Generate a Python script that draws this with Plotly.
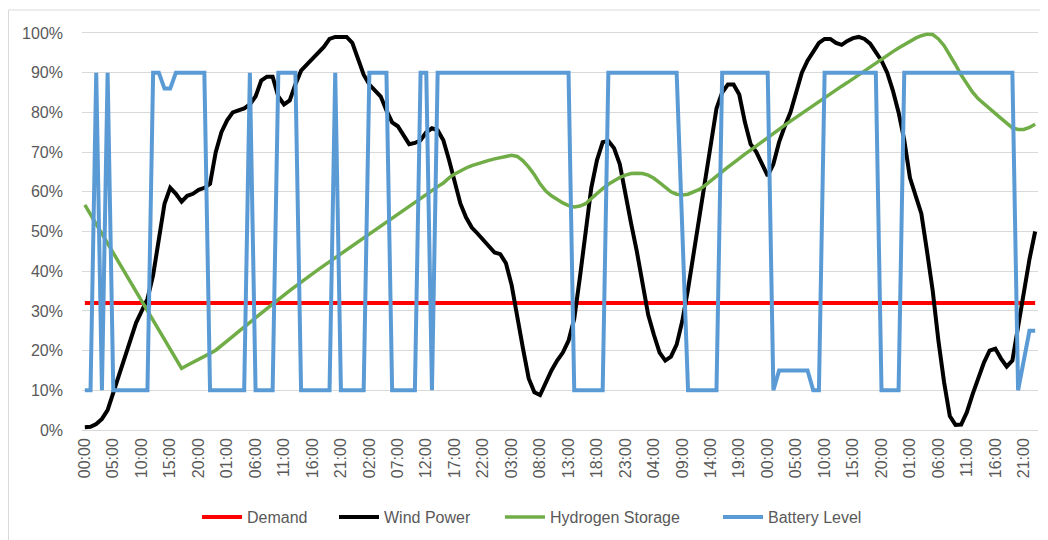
import plotly.graph_objects as go

hours = list(range(168))
time_labels = [f"{h % 24:02d}:00" for h in hours]
tick_hours = hours[::5]
tick_labels = time_labels[::5]

demand = [32] * 168

wind_power = [
    0.7, 0.8, 1.5, 2.8, 5, 9.5, 14, 18.5, 23, 27, 30, 33, 39, 48, 57, 61, 59.5, 57.5, 59, 59.5,
    60.5, 61, 62, 70, 75, 78, 80, 80.5, 81, 82, 84, 88, 89, 89, 84, 82, 83, 87, 90.5, 92,
    93.5, 95, 96.5, 98.5, 99, 99, 99, 97.5, 93.5, 89.5, 87, 85.5, 84, 80.5, 77.5, 76.5, 74, 72, 72.3, 73,
    75, 76, 75.5, 73, 68, 62, 57, 53.5, 51, 49.5, 48, 46.5, 44.7, 44.3, 42, 36.5, 28, 20.5, 13, 9.5,
    8.8, 12, 15, 17.5, 19.5, 22.5, 28, 38.5, 49, 61, 68, 72.5, 72.8, 71, 67, 59, 52, 45, 37, 29,
    24, 19.5, 17.5, 18.5, 21.5, 27.5, 35.5, 44.5, 54, 63, 72, 81, 85, 87, 87, 84.5, 77.5, 72, 70, 67,
    64, 67, 72.5, 76.5, 80, 85, 90, 93, 95.5, 97.5, 98.5, 98.5, 97.5, 97, 98, 98.7, 99, 98.5, 97.3, 95.3,
    93, 90, 85.5, 80, 73, 63.5, 59.2, 54.5, 45, 35, 22.5, 12, 3.5, 1.3, 1.4, 4.5, 9, 13, 17, 20,
    20.5, 18, 16, 17.5, 26, 35, 43, 50,
]

hydrogen_storage = [
    56.7, 54.3, 51.9, 49.4, 47.0, 44.6, 42.2, 39.7, 37.3, 34.9, 32.5, 30.0, 27.6, 25.2, 22.8, 20.3, 17.9, 15.5, 16.3, 17.0,
    17.8, 18.5, 19.3, 20.1, 21.2, 22.4, 23.6, 24.8, 26.0, 27.2, 28.3, 29.4, 30.6, 31.7, 32.9, 34.0, 35.1, 36.2, 37.3, 38.4,
    39.4, 40.4, 41.4, 42.4, 43.3, 44.4, 45.4, 46.4, 47.4, 48.5, 49.5, 50.5, 51.5, 52.5, 53.5, 54.5, 55.5, 56.4, 57.4, 58.4,
    59.3, 60.3, 61.3, 62.2, 63.5, 64.5, 65.3, 66.0, 66.6, 67.1, 67.5, 67.9, 68.3, 68.6, 68.9, 69.2, 68.9, 67.8, 66.2, 64.3,
    62.0, 60.2, 59.0, 58.0, 57.2, 56.5, 56.2, 56.4, 57.0, 58.3, 59.6, 60.8, 61.9, 62.8, 63.6, 64.2, 64.6, 64.7, 64.6, 64.2,
    63.4, 62.3, 61.1, 60.0, 59.4, 59.2, 59.4, 59.9, 60.6, 61.6, 62.8, 64.0, 65.1, 66.2, 67.3, 68.5, 69.5, 70.5, 71.5, 72.5,
    73.5, 74.6, 75.7, 76.8, 77.8, 78.8, 79.7, 80.7, 81.7, 82.7, 83.7, 84.6, 85.6, 86.6, 87.5, 88.5, 89.5, 90.5, 91.5, 92.5,
    93.4, 94.4, 95.3, 96.2, 97.1, 97.9, 98.7, 99.3, 99.7, 99.6, 98.5, 96.8, 94.6, 92.0, 89.4, 87.2, 85.1, 83.4, 82.1, 80.9,
    79.8, 78.5, 77.3, 76.1, 75.7, 75.7, 76.2, 77.0,
]

battery_level = (
    [10, 10, 90, 10, 90, 10, 10, 10, 10, 10, 10, 10, 90, 90, 86, 86, 90, 90, 90, 90,
     90, 90, 10, 10, 10, 10, 10, 10, 10, 90, 10, 10, 10, 10, 90, 90, 90, 90, 10, 10,
     10, 10, 10, 10, 90, 10, 10, 10, 10, 10, 90, 90, 90, 90, 10, 10, 10, 10, 10, 90,
     90, 10]
    + [90] * 24
    + [10] * 6
    + [90] * 13
    + [50]
    + [10] * 6
    + [90] * 9
    + [10]
    + [15] * 6
    + [10, 10]
    + [90] * 10
    + [10] * 4
    + [90] * 20
    + [10, 17, 25, 25]
)

series = [
    ("Demand", demand, "#FF0000", 4, 82),
    ("Wind Power", wind_power, "#000000", 4, 111),
    ("Hydrogen Storage", hydrogen_storage, "#70AD47", 3.5, 163),
    ("Battery Level", battery_level, "#5B9BD5", 4, 100),
]

fig = go.Figure()
for name, vals, color, w, lw in series:
    fig.add_trace(go.Scatter(
        x=hours, y=vals, name=name, mode="lines",
        line=dict(color=color, width=w), legendwidth=lw,
    ))

FONT = "Liberation Sans, Arial, sans-serif"
GRAY = "#595959"

# page is offset by the 8px default body margin; figure is sized to fit the 1048x540 window
W, H = 1040, 532
L, R, T, B = 74, 10, 21, 106

fig.update_layout(
    width=W, height=H,
    margin=dict(l=L, r=R, t=T, b=B, autoexpand=False),
    paper_bgcolor="white", plot_bgcolor="white",
    font=dict(family=FONT, size=16, color=GRAY),
    showlegend=True,
    legend=dict(
        orientation="h", x=(189 - L) / 956, xanchor="left", y=-0.205, yanchor="middle",
        font=dict(family=FONT, size=16, color=GRAY), itemwidth=40,
    ),
    xaxis=dict(
        range=[-0.5, 167.5], tickmode="array", tickvals=tick_hours, ticktext=tick_labels,
        tickangle=-90, showgrid=False, zeroline=False, showline=False, ticks="",
        tickfont=dict(family=FONT, size=16, color=GRAY),
    ),
    yaxis=dict(
        range=[-1, 101], tick0=0, dtick=10, ticksuffix="%",
        showgrid=True, gridcolor="#D9D9D9", gridwidth=1, zeroline=False, showline=False,
        ticks="", ticklabelstandoff=18,
        tickfont=dict(family=FONT, size=16, color=GRAY),
    ),
    shapes=[dict(
        type="rect", xref="paper", yref="paper",
        x0=(0.5 - L) / 956, x1=1.2, y0=-0.6, y1=(T + 405 - 2) / 405,
        line=dict(color="#D9D9D9", width=1), fillcolor="rgba(0,0,0,0)", layer="below",
    )],
)

fig.write_html("out.html")
